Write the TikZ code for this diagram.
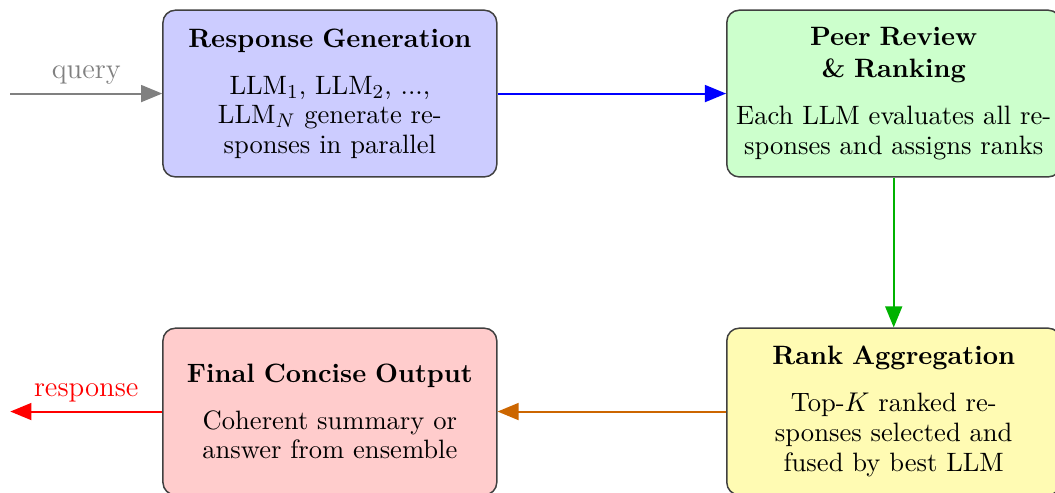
\documentclass[tikz,border=0pt]{standalone}
\usepackage{tikz}
\usetikzlibrary{arrows.meta,positioning}

\begin{document}
\begin{tikzpicture}[
  node distance=3.25cm,
  stage/.style={draw=black!75, line width=0.6pt, rounded corners=5pt, text width=4.5cm,
    minimum height=2.37cm, align=center, inner xsep=3.5pt, inner ysep=5pt,
    font=\fontsize{10.75}{12}\selectfont},
  flow/.style={-{Triangle[length=3mm,width=2.4mm]}, line width=0.8pt},
  tag/.style={above, font=\fontsize{11.65}{14}\selectfont}
]
\useasboundingbox (-4.69,1.33) rectangle (10.31,-5.67);
\node[stage, fill=blue!20] (gen) {\textbf{Response Generation}\\[7pt]LLM$_1$, LLM$_2$, ..., LLM$_N$ generate responses in parallel};
\node[stage, fill=green!20, right=of gen] (review) {\textbf{Peer Review}\\[1pt]\textbf{\& Ranking}\\[7pt]Each LLM evaluates all responses and assigns ranks};
\node[stage, fill=yellow!30, below=2.13cm of review] (agg) {\textbf{Rank Aggregation}\\[7pt]Top-$K$ ranked responses selected and fused by best LLM};
\node[stage, fill=red!20, left=of agg] (final) {\textbf{Final Concise Output}\\[7pt]Coherent summary or answer from ensemble};
\coordinate[left=2.16cm of gen.west] (query);
\coordinate[left=2.16cm of final.west] (answer);
\draw[flow, gray] (query) -- node[tag] {query} (gen);
\draw[flow, blue] (gen) -- (review);
\draw[flow, green!70!black] (review) -- (agg);
\draw[flow, orange!80!black] (agg) -- (final);
\draw[flow, red] (final) -- node[tag] {response} (answer);
\end{tikzpicture}
\end{document}
